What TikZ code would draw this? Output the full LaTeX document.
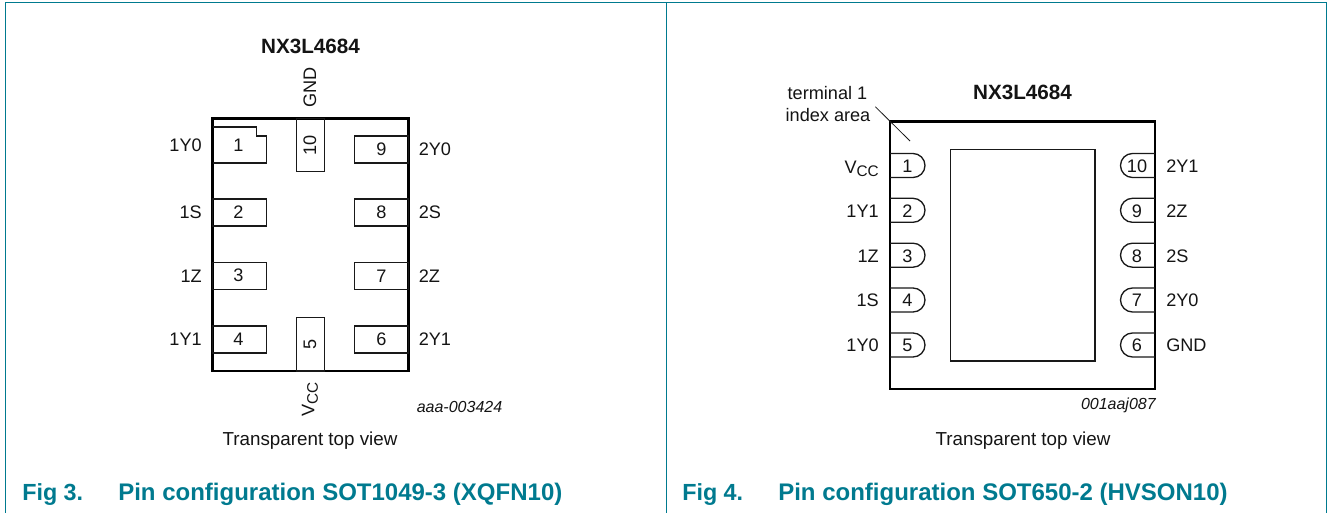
\documentclass[tikz,border=0pt]{standalone}
\usepackage{fontspec}
\setmainfont{Liberation Sans}
\definecolor{nxp}{RGB}{0,122,143}
\tikzset{
  x=0.75pt,y=-0.75pt,
  frameline/.style={draw=nxp,line width=1.1pt},
  chip/.style={draw=black,line width=2.2pt,line join=miter},
  padline/.style={draw=black!90,line width=1pt,line join=miter},
  lbl/.style={inner sep=0pt,font=\fontsize{13.6}{15}\selectfont,text=black!92},
  viewtxt/.style={inner sep=0pt,font=\fontsize{14.1}{16}\selectfont,text=black!92},
  chiptitle/.style={inner sep=0pt,font=\fontsize{15.5}{17}\selectfont\bfseries,text=black!92},
  codetxt/.style={inner sep=0pt,font=\fontsize{12}{14}\selectfont\itshape,text=black!92},
  figcap/.style={inner sep=0pt,anchor=base west,font=\fontsize{17.5}{19}\selectfont\bfseries,text=nxp},
  figcapb/.style={figcap,font=\fontsize{18}{20}\selectfont\bfseries},
}
\newcommand{\lr}[5]{\node[lbl,#1] (#2) at (#3,#4) {#5};}
\newcommand{\vcc}{V\raisebox{-0.2em}{\fontsize{11.5}{13}\selectfont CC}}
\begin{document}
\begin{tikzpicture}
\useasboundingbox (0,0) rectangle (1328,513);
% frame
\draw[frameline] (5.5,513) -- (5.5,2.5) -- (1326.3,2.5) -- (1326.3,513);
\draw[frameline] (666.3,2.5) -- (666.3,513);

% ---------- left package
\node[chiptitle] (t1) at (310.5,46) {NX3L4684};
\draw[chip] (212.5,118.5) rectangle (408.5,371);
\draw[padline] (212.5,127) -- (256.5,127) -- (256.5,136) -- (266.5,136) -- (266.5,163) -- (212.5,163);
\draw[padline] (212.5,199) rectangle (266.5,226);
\draw[padline] (212.5,262.5) rectangle (266.5,289.5);
\draw[padline] (212.5,326) rectangle (266.5,353);
\draw[padline] (408.5,136) rectangle (354.5,163);
\draw[padline] (408.5,199) rectangle (354.5,226);
\draw[padline] (408.5,262.5) rectangle (354.5,289.5);
\draw[padline] (408.5,326) rectangle (354.5,353);
\draw[padline] (296.5,118.5) rectangle (324.5,171.5);
\draw[padline] (296.5,371) rectangle (324.5,317.5);
\lr{}{p1}{238.5}{145}{1}
\lr{}{p2}{238.5}{212}{2}
\lr{}{p3}{238.5}{275.5}{3}
\lr{}{p4}{238.5}{339.5}{4}
\lr{}{p9}{381.5}{149.5}{9}
\lr{}{p8}{381.5}{212.5}{8}
\lr{}{p7}{381.5}{276}{7}
\lr{}{p6}{381.5}{339.5}{6}
\lr{rotate=90}{p10}{310}{145}{10}
\lr{rotate=90}{p5}{310}{344}{5}
\lr{anchor=east}{n1}{202}{145}{1Y0}
\lr{anchor=east}{n2}{202}{212}{1S}
\lr{anchor=east}{n3}{202}{276}{1Z}
\lr{anchor=east}{n4}{202}{339.5}{1Y1}
\lr{anchor=west}{n9}{418.5}{149.5}{2Y0}
\lr{anchor=west}{n8}{418.5}{212.5}{2S}
\lr{anchor=west}{n7}{418.5}{276}{2Z}
\lr{anchor=west}{n6}{418.5}{339.5}{2Y1}
\lr{rotate=90}{n10}{310}{87.5}{GND}
\lr{rotate=90,anchor=west}{n5}{310}{417}{\vcc}
\node[codetxt] (c1) at (459.5,407) {aaa-003424};
\node[viewtxt] (v1) at (310,441) {Transparent top view};
\node[figcap] (f3) at (22,500) {Fig 3.};
\node[figcapb] (g3) at (118,500) {Pin configuration SOT1049-3 (XQFN10)};

% ---------- right package
\node[chiptitle] (t2) at (1022.5,92) {NX3L4684};
\draw[chip] (890,121.5) rectangle (1155,389);
\draw[padline] (950.5,149.5) rectangle (1095,361);
\foreach \i/\y in {1/153.5,2/198.3,3/243.2,4/288,5/333}{
  \draw[padline] (890,\y) -- (913,\y) arc[start angle=90,end angle=-90,radius=9pt] -- (890,\y+24);
}
\foreach \i/\y in {10/153.5,9/198.3,8/243.2,7/288,6/333}{
  \draw[padline] (1155,\y) -- (1132.5,\y) arc[start angle=90,end angle=270,radius=9pt] -- (1155,\y+24);
}
\lr{}{q1}{907.5}{166}{1}
\lr{}{q2}{907.5}{211}{2}
\lr{}{q3}{907.5}{256}{3}
\lr{}{q4}{907.5}{300.5}{4}
\lr{}{q5}{907.5}{345.5}{5}
\lr{}{q10}{1137}{166}{10}
\lr{}{q9}{1137}{211}{9}
\lr{}{q8}{1137}{256}{8}
\lr{}{q7}{1137}{300.5}{7}
\lr{}{q6}{1137}{345.5}{6}
\lr{anchor=east}{m1}{879}{169}{\vcc}
\lr{anchor=east}{m2}{879}{211}{1Y1}
\lr{anchor=east}{m3}{879}{256}{1Z}
\lr{anchor=east}{m4}{879}{300.5}{1S}
\lr{anchor=east}{m5}{879}{345.5}{1Y0}
\lr{anchor=west}{m10}{1166}{166}{2Y1}
\lr{anchor=west}{m9}{1166}{211}{2Z}
\lr{anchor=west}{m8}{1166}{256}{2S}
\lr{anchor=west}{m7}{1166}{300.5}{2Y0}
\lr{anchor=west}{m6}{1166}{345.5}{GND}
\node[lbl,anchor=center] (idx1) at (827.5,93.5) {terminal 1};
\node[lbl,anchor=center] (idx2) at (828,115) {index area};
\coordinate (idxa) at (875.3,106.7);
\coordinate (idxb) at (910,141);
\draw[black!90,line width=0.6pt] (idxa) -- (idxb);
\node[codetxt,anchor=east] (c2) at (1156,405) {001aaj087};
\node[viewtxt] (v2) at (1023,441) {Transparent top view};
\node[figcap] (f4) at (682,500) {Fig 4.};
\node[figcapb] (g4) at (778,500) {Pin configuration SOT650-2 (HVSON10)};
\end{tikzpicture}
\end{document}
